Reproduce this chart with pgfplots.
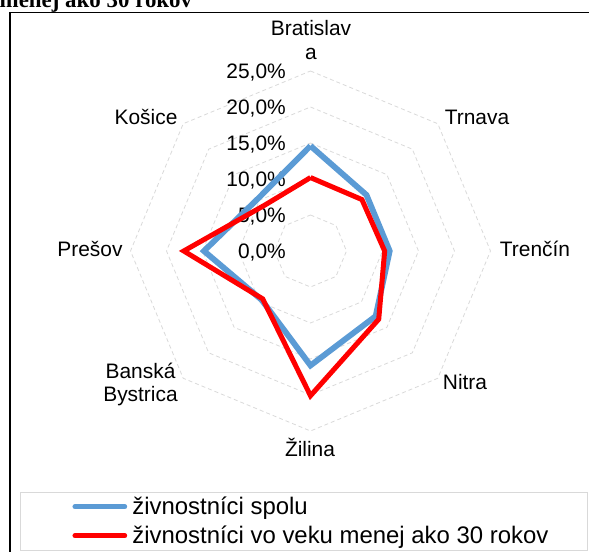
\documentclass[border=0pt]{standalone}
\usepackage{pgfplots}
\pgfplotsset{compat=1.18}
\usepgfplotslibrary{polar}
\usepackage{fontspec}
\setmainfont{Liberation Sans}
\newfontfamily\titlefont{Liberation Serif}
\definecolor{sblue}{HTML}{5B9BD5}
\definecolor{sred}{HTML}{FF0000}
\definecolor{lgray}{HTML}{D9D9D9}
\newcommand\lblfont{\fontsize{21}{24}\selectfont}

\begin{document}
\begin{tikzpicture}[x=1bp,y=1bp]
\useasboundingbox (0,0) rectangle (589,552);
\clip (0,0) rectangle (589,552);
% title (cut off at the top)
\node[anchor=base west, inner sep=0pt, font=\titlefont\bfseries\fontsize{23}{27}\selectfont] at (-0.5,544) {menej ako 30 rokov};
% chart frame
\draw[line width=1.5bp] (10,-5) -- (10,539.7) -- (600,539.7);
% legend frame
\draw[lgray, line width=1bp] (20.7,1) rectangle (587,59.3);
\begin{polaraxis}[
  at={(310.5bp,301bp)}, anchor=center,
  scale only axis, width=360bp, height=360bp,
  xmin=0, xmax=360, ymin=0, ymax=25,
  hide axis, clip=false,
  legend style={at={(axis description cs:-0.1617,-0.1694)}, anchor=north west,
    draw=none, fill=none, inner sep=0pt, row sep=0pt, column sep=5.2bp,
    font=\fontsize{24}{28}\selectfont,
    nodes={inner sep=0pt, text height=22bp, text depth=7bp}},
  legend cell align=left,
  legend image code/.code={\draw[#1, line width=4.7bp, line cap=round] (0bp,0bp) -- (50bp,0bp);},
]
% octagonal grid rings
\addplot[forget plot, lgray, line width=0.8bp, dash pattern=on 4bp off 3bp] coordinates {(90,5)(45,5)(0,5)(315,5)(270,5)(225,5)(180,5)(135,5)(90,5)};
\addplot[forget plot, lgray, line width=0.8bp, dash pattern=on 4bp off 3bp] coordinates {(90,10)(45,10)(0,10)(315,10)(270,10)(225,10)(180,10)(135,10)(90,10)};
\addplot[forget plot, lgray, line width=0.8bp, dash pattern=on 4bp off 3bp] coordinates {(90,15)(45,15)(0,15)(315,15)(270,15)(225,15)(180,15)(135,15)(90,15)};
\addplot[forget plot, lgray, line width=0.8bp, dash pattern=on 4bp off 3bp] coordinates {(90,20)(45,20)(0,20)(315,20)(270,20)(225,20)(180,20)(135,20)(90,20)};
\addplot[forget plot, lgray, line width=0.8bp, dash pattern=on 4bp off 3bp] coordinates {(90,25)(45,25)(0,25)(315,25)(270,25)(225,25)(180,25)(135,25)(90,25)};
% radial tick labels
\foreach \r/\t in {0/{0,0\%},5/{5,0\%},10/{10,0\%},15/{15,0\%},20/{20,0\%},25/{25,0\%}}{
  \edef\tmp{\noexpand\node[anchor=base east, inner sep=0pt, font=\noexpand\lblfont, xshift=-24.5bp, yshift=-7.5bp] at (axis cs:90,\r) {\t};}
  \tmp
}
% data
\addplot[sblue, line width=5.8bp, line join=miter] coordinates {
  (90,14.6) (45,11.0) (0,11.0) (315,12.8) (270,15.9) (225,9.6) (180,14.8) (135,10.3) (90,14.6)};
\addlegendentry{živnostníci spolu}
\addplot[sred, line width=5bp, line join=miter] coordinates {
  (90,10.2) (45,10.1) (0,10.3) (315,13.4) (270,20.1) (225,9.4) (180,17.6) (135,9.0) (90,10.2)};
\addlegendentry{živnostníci vo veku menej ako 30 rokov}
\end{polaraxis}
% category labels
\begin{scope}[every node/.style={inner sep=0pt, font=\lblfont, anchor=base}]
\node at (311,516) {Bratislav};
\node at (311,492) {a};
\node at (477,427.5) {Trnava};
\node at (535,295) {Trenčín};
\node at (465,162) {Nitra};
\node at (310,95) {Žilina};
\node at (140.5,173.5) {Banská};
\node at (140.5,150) {Bystrica};
\node at (90,295) {Prešov};
\node at (146,427.5) {Košice};
\end{scope}
\end{tikzpicture}
\end{document}
